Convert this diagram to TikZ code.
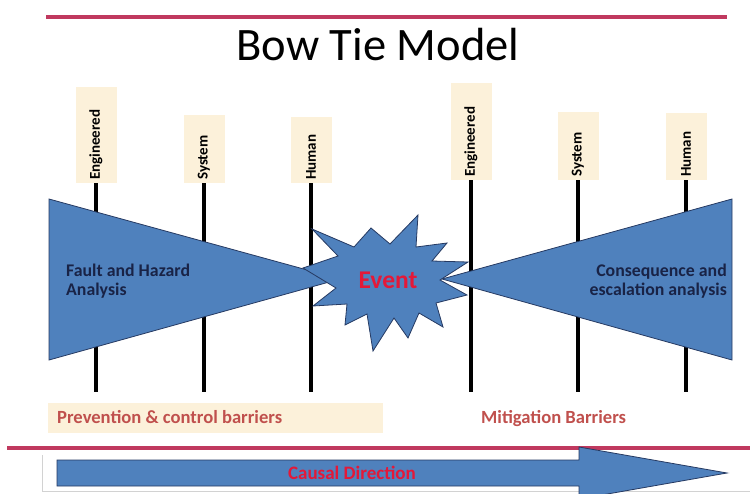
\documentclass[tikz,border=0pt]{standalone}
\usepackage{fontspec}
\setmainfont{Carlito}
\usetikzlibrary{calc}
\definecolor{tieblue}{RGB}{79,129,189}
\definecolor{tieedge}{RGB}{38,58,98}
\definecolor{rulecol}{RGB}{192,57,95}
\definecolor{cream}{RGB}{252,241,218}
\definecolor{barriertext}{RGB}{192,80,77}
\definecolor{eventred}{RGB}{228,24,56}
\definecolor{navy}{RGB}{25,35,70}
\tikzset{
  tieshape/.style={fill=tieblue, draw=tieedge, line width=0.8pt, line join=miter},
  barrierbox/.style={fill=cream, inner sep=0pt, minimum width=41pt},
  barriertag/.style={rotate=90, anchor=west, inner sep=0pt, font=\bfseries\fontsize{15}{17}\selectfont, text=black},
  barrierline/.style={line width=3.5pt, draw=black},
  sidetext/.style={font=\bfseries\fontsize{17.8}{19.5}\selectfont, text=navy, inner sep=0pt},
  bottomtext/.style={font=\bfseries\fontsize{18.6}{21}\selectfont, text=barriertext, inner sep=0pt},
  rulebar/.style={draw=rulecol, line width=4pt},
}
\begin{document}
\begin{tikzpicture}[x=1pt,y=1pt]
\useasboundingbox (0,0) rectangle (750,-493);
\clip (0,0) rectangle (750,-493);

% rules and title
\draw[rulebar] (46,-17) -- (727,-17);
\node[anchor=base, font=\fontsize{46.5}{52}\selectfont, inner sep=0pt] (title) at (378,-60) {Bow Tie Model};

% barrier label boxes
\node[barrierbox, minimum height=96pt, anchor=south] (bl1) at (96,-183) {};
\node[barrierbox, minimum height=68pt, anchor=south] (bl2) at (204,-183) {};
\node[barrierbox, minimum height=66pt, anchor=south] (bl3) at (311,-183) {};
\node[barrierbox, minimum height=97pt, anchor=south] (br1) at (471,-180) {};
\node[barrierbox, minimum height=68pt, anchor=south] (br2) at (578,-180) {};
\node[barrierbox, minimum height=67pt, anchor=south] (br3) at (686,-180) {};
\node[barriertag] (tl1) at ($(bl1.south)+(0,3)$) {Engineered};
\node[barriertag] (tl2) at ($(bl2.south)+(0,3)$) {System};
\node[barriertag] (tl3) at ($(bl3.south)+(0,3)$) {Human};
\node[barriertag] (tr1) at ($(br1.south)+(0,3)$) {Engineered};
\node[barriertag] (tr2) at ($(br2.south)+(0,3)$) {System};
\node[barriertag] (tr3) at ($(br3.south)+(0,3)$) {Human};

% barrier lines
\coordinate (el1) at (96,-392);
\coordinate (el2) at (204,-392);
\coordinate (el3) at (311,-392);
\coordinate (er1) at (471,-392);
\coordinate (er2) at (578,-392);
\coordinate (er3) at (686,-392);
\draw[barrierline] (bl1.south) -- (el1);
\draw[barrierline] (bl2.south) -- (el2);
\draw[barrierline] (bl3.south) -- (el3);
\draw[barrierline] (br1.south) -- (er1);
\draw[barrierline] (br2.south) -- (er2);
\draw[barrierline] (br3.south) -- (er3);

% the two wedges
\draw[tieshape] (49,-199) -- (340,-279) -- (49,-360) -- cycle;
\draw[tieshape] (732,-199) -- (442,-279) -- (732,-360) -- cycle;

% event burst
\draw[tieshape] (312,-229) -- (354,-247) -- (371,-228) -- (390,-244) -- (418,-215)
  -- (416,-247) -- (447,-243) -- (432,-261) -- (468,-262) -- (440,-280)
  -- (467,-295) -- (436,-303) -- (443,-327) -- (419,-313) -- (408,-338)
  -- (394,-318) -- (373,-351) -- (367,-314) -- (345,-325) -- (347,-304)
  -- (313,-306) -- (336,-288) -- (303,-268) -- (338,-256) -- cycle;
\node[font=\bfseries\fontsize{25.5}{28}\selectfont, text=eventred, inner sep=0pt] (event) at (388,-280) {Event};

\node[sidetext, align=left, anchor=west] (fault) at (66,-281) {Fault and Hazard\\Analysis};
\node[sidetext, align=right, anchor=east] (conseq) at (727,-281) {Consequence and\\escalation analysis};

% bottom captions
\node[fill=cream, minimum width=335pt, minimum height=30pt, anchor=north west, inner sep=0pt] (prevbox) at (48,-403) {};
\node[bottomtext, anchor=base west] (prev) at (57,-423) {Prevention \& control barriers};
\node[bottomtext, anchor=base west] (mitig) at (481,-423) {Mitigation Barriers};

\draw[rulebar, line width=3.5pt] (7,-448) -- (750,-448);

% causal direction arrow
\draw[gray!35, line width=0.8pt] (42,-455) -- (42,-491) -- (750,-491);
\draw[tieshape] (57,-460) -- (579,-460) -- (579,-447) -- (727,-473) -- (579,-499)
  -- (579,-486) -- (57,-486) -- cycle;
\node[font=\bfseries\fontsize{19}{22}\selectfont, text=eventred, inner sep=0pt, anchor=base] (causal) at (352,-479) {Causal Direction};
\end{tikzpicture}
\end{document}
